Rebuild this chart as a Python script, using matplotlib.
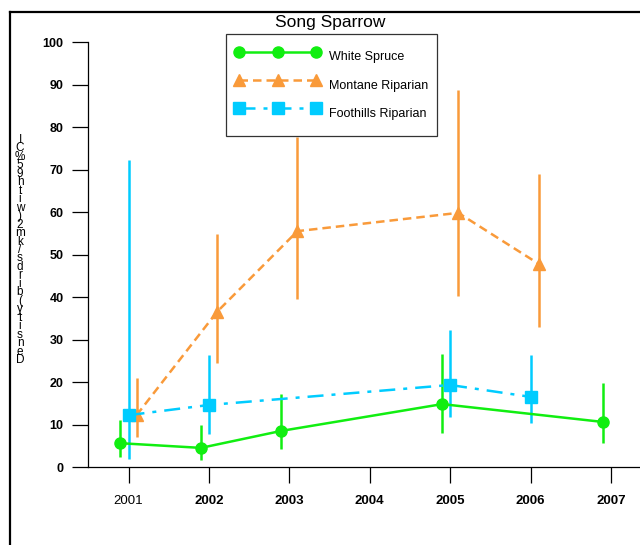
import numpy as np
import matplotlib
matplotlib.use("Agg")
import matplotlib.pyplot as plt
from matplotlib.lines import Line2D

plt.rcParams['font.family'] = ['Liberation Sans', 'DejaVu Sans']

years = [2001, 2002, 2003, 2004, 2005, 2006, 2007]
year_labels = ['2001', '2002', '2003', '2004', '2005', '2006', '2007']

# White Spruce
ws_x = [2001, 2002, 2003, 2005, 2007]
ws_y = [5.6, 4.5, 8.5, 14.8, 10.6]
ws_lo = [2.4, 1.6, 4.2, 8.0, 5.6]
ws_hi = [11.1, 9.9, 17.2, 26.6, 19.8]

# Montane Riparian
mr_x = [2001, 2002, 2003, 2005, 2006]
mr_y = [12.2, 36.5, 55.5, 59.8, 47.8]
mr_lo = [7.0, 24.5, 39.5, 40.2, 33.0]
mr_hi = [21.0, 54.8, 77.6, 88.7, 68.9]

# Foothills Riparian
fr_x = [2001, 2002, 2005, 2006]
fr_y = [12.2, 14.6, 19.3, 16.5]
fr_lo = [1.9, 7.8, 11.8, 10.4]
fr_hi = [72.2, 26.4, 32.2, 26.4]

green = '#11ee11'
orange = '#f99a3a'
blue = '#00ccff'

fig = plt.figure(figsize=(6.4, 5.45), dpi=100)
ax = fig.add_axes([0.1375, 0.1431, 0.8625, 0.7798])

def series(xs, ys, lo, hi, off, color, marker, ms, ls, label):
    xs = np.array(xs, dtype=float) + off
    ys = np.array(ys)
    yerr = [ys - np.array(lo), np.array(hi) - ys]
    ax.errorbar(xs, ys, yerr=yerr, fmt='none', ecolor=color, elinewidth=1.8,
                capsize=0, clip_on=False, zorder=2)
    ax.plot(xs, ys, color=color, lw=1.8, linestyle=ls, marker=marker,
            markersize=ms, markeredgecolor=color, markerfacecolor=color,
            label=label, clip_on=False, zorder=3)

series(ws_x, ws_y, ws_lo, ws_hi, -0.1, green, 'o', 8, '-', 'White Spruce')
series(mr_x, mr_y, mr_lo, mr_hi, 0.1, orange, '^', 8.5, (0, (3.4, 2.0)), 'Montane Riparian')
series(fr_x, fr_y, fr_lo, fr_hi, 0.0, blue, 's', 8.5, (0, (6.4, 3.2, 1.6, 3.2)), 'Foothills Riparian')

ax.set_xlim(2000.496, 2007.36)
ax.set_ylim(0, 100)
ax.set_yticks(np.arange(0, 101, 10))
ax.set_xticks(years)
ax.set_xticklabels(year_labels)
for i, t in enumerate(ax.get_xticklabels()):
    t.set_fontweight('normal' if i == 0 else 'bold')
for t in ax.get_yticklabels():
    t.set_fontweight('bold')
ax.tick_params(axis='both', direction='out', length=11.5, width=0.9, labelsize=9)
ax.tick_params(axis='x', pad=9, labelsize=9.5)
ax.tick_params(axis='y', pad=6)
ax.spines['top'].set_visible(False)
ax.spines['right'].set_visible(False)
ax.spines['left'].set_linewidth(0.9)
ax.spines['bottom'].set_linewidth(0.9)

fig.text(330 / 640, 1 - 22 / 545, 'Song Sparrow', ha='center', va='center', fontsize=12.5)

# axis title as it comes out in the original: one glyph per line, bottom to top
ylab = "Density (birds/km2) with 95% CI".replace(' ', '')
fig.text(20 / 640, 1 - 250 / 545, '\n'.join(ylab[::-1]), ha='center', va='center',
         fontsize=8.5, linespacing=0.61)

leg = ax.legend(loc='upper left', bbox_to_anchor=(226 / 640, 1 - 34 / 545),
                bbox_transform=fig.transFigure, borderaxespad=0, numpoints=3,
                handlelength=6.76, handleheight=2.9, handletextpad=0.7,
                labelspacing=0.12, borderpad=0.75,
                fancybox=False, framealpha=1, edgecolor='#333333',
                prop={'size': 9})
leg.get_frame().set_linewidth(0.9)

fig.add_artist(Line2D([9.5 / 640, 9.5 / 640], [0, 1 - 11.5 / 545], transform=fig.transFigure,
                      color='black', lw=1.6))
fig.add_artist(Line2D([9.5 / 640, 1], [1 - 11.5 / 545, 1 - 11.5 / 545], transform=fig.transFigure,
                      color='black', lw=1.6))

fig.savefig('out.png', dpi=100)
